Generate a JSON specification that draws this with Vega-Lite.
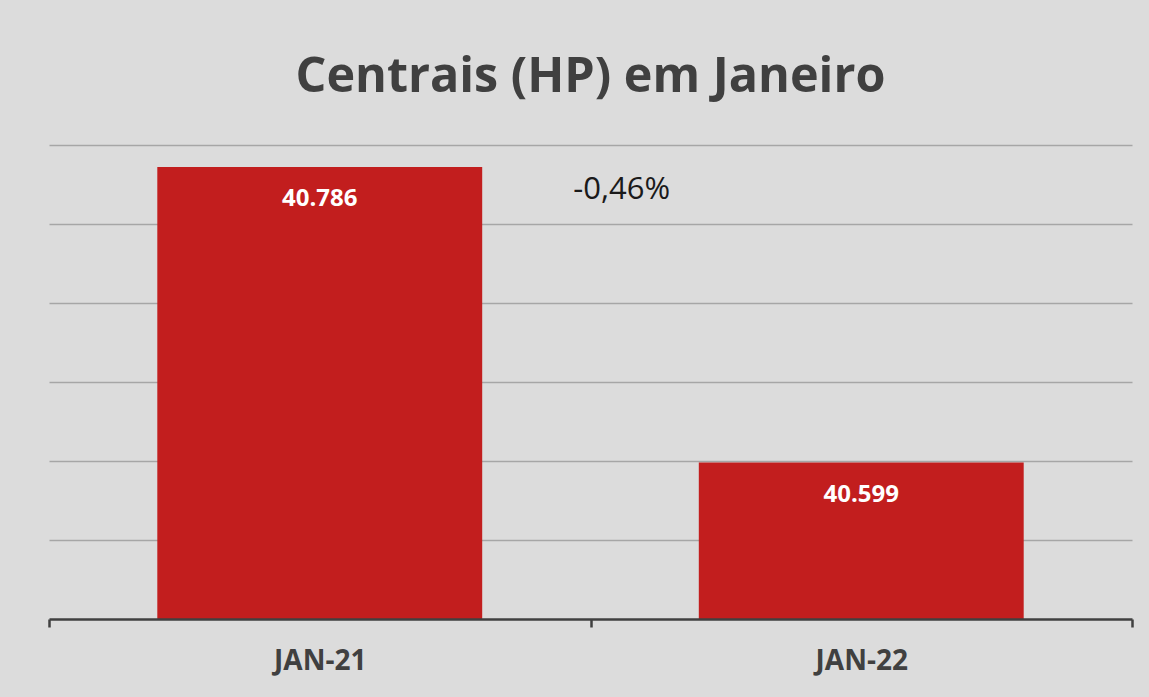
{
  "$schema": "https://vega.github.io/schema/vega-lite/v6.json",
  "width": 1083,
  "height": 474,
  "autosize": {"type": "none"},
  "padding": {"left": 49, "top": 145, "right": 17, "bottom": 78},
  "background": "#dcdcdc",
  "view": {"stroke": null},
  "title": {
    "text": "Centrais (HP) em Janeiro",
    "font": "Open Sans",
    "fontSize": 48.5,
    "fontWeight": "bold",
    "color": "#404040",
    "anchor": "middle",
    "baseline": "alphabetic",
    "offset": 5
  },
  "data": {
    "values": [
      {"mes": "JAN-21", "valor": 40786, "rotulo": "40.786"},
      {"mes": "JAN-22", "valor": 40599, "rotulo": "40.599"}
    ]
  },
  "encoding": {
    "x": {
      "field": "mes",
      "type": "nominal",
      "sort": null,
      "scale": {"paddingInner": 0, "paddingOuter": 0},
      "axis": {
        "title": null,
        "labelAngle": 0,
        "labelFont": "Open Sans",
        "labelFontSize": 28,
        "labelFontWeight": "bold",
        "labelColor": "#404040",
        "labelPadding": 20,
        "tickBand": "extent",
        "tickSize": 8,
        "tickWidth": 2.5,
        "tickColor": "#404040",
        "domainColor": "#404040",
        "domainWidth": 2.5,
        "zindex": 1
      }
    },
    "y": {
      "field": "valor",
      "type": "quantitative",
      "scale": {"domain": [40500, 40800], "zero": false, "nice": false},
      "axis": {
        "title": null,
        "labels": false,
        "ticks": false,
        "domain": false,
        "values": [40550, 40600, 40650, 40700, 40750, 40800],
        "gridColor": "#a6a6a6",
        "gridWidth": 1.5
      }
    }
  },
  "layer": [
    {"mark": {"type": "bar", "color": "#c21e1e", "clip": true, "width": {"band": 0.6}}},
    {
      "mark": {
        "type": "text",
        "font": "Open Sans",
        "fontSize": 24,
        "fontWeight": "bold",
        "color": "#ffffff",
        "baseline": "middle",
        "dy": 32
      },
      "encoding": {"text": {"field": "rotulo"}}
    },
    {
      "data": {"values": [{"mes": "JAN-21", "valor": 40786, "nota": "-0,46%"}]},
      "mark": {
        "type": "text",
        "font": "Open Sans",
        "fontSize": 31,
        "color": "#1a1a1a",
        "baseline": "middle",
        "dx": 302,
        "dy": 23
      },
      "encoding": {"text": {"field": "nota"}}
    }
  ]
}
